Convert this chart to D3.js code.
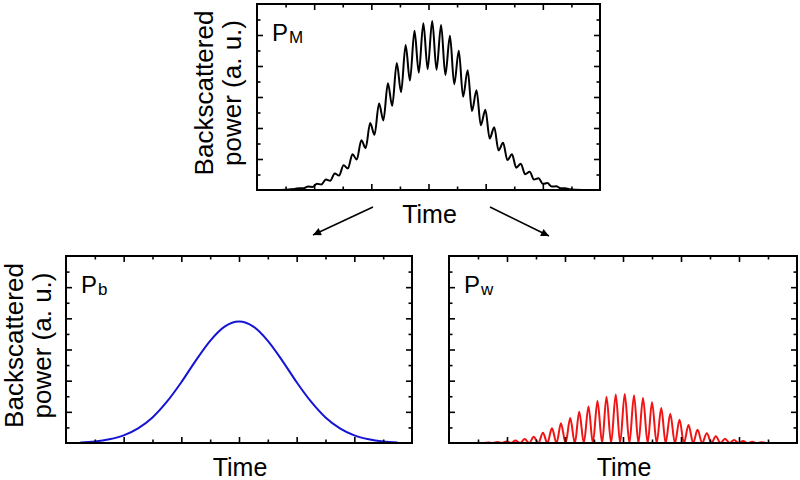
<!DOCTYPE html>
<html>
<head>
<meta charset="utf-8">
<script src="https://cdn.jsdelivr.net/npm/d3@7"></script>
<style>
  body { margin: 0; background: #fff; }
  text { font-family: "Liberation Sans", Arial, sans-serif; fill: #000; }
</style>
</head>
<body>
<div id="chartDivId"></div>
<script>
// axes of every panel: time and power, both in arbitrary units
var timeDomain = [-6, 6];
var powerDomain = [0, 12];
var majorTimeTicks = [-4, -2, 0, 2, 4];
var minorTimeTicks = [-5, -3, -1, 1, 3, 5];
var majorPowerTicks = [2, 4, 6, 8, 10];
var minorPowerTicks = [1, 3, 5, 7, 9, 11];

// P_M (top panel): tops and bottoms of the ripples
var pmPeakTime = [-4.52, -4.21, -3.90, -3.59, -3.28, -2.97, -2.66, -2.35, -2.04, -1.73,
                  -1.42, -1.11, -0.80, -0.49, -0.18, 0.13, 0.44, 0.75, 1.06, 1.37,
                  1.68, 1.99, 2.30, 2.61, 2.92, 3.23, 3.54, 3.85, 4.16, 4.47, 4.78];
var pmPeakPower = [0.12, 0.22, 0.40, 0.68, 1.07, 1.60, 2.31, 3.21, 4.32, 5.58,
                   6.89, 8.19, 9.35, 10.27, 10.76, 10.91, 10.65, 9.95, 8.99, 7.72,
                   6.44, 5.18, 4.05, 3.05, 2.30, 1.70, 1.18, 0.76, 0.45, 0.24, 0.12];
var pmValleyTime = [-5.40, -4.68, -4.37, -4.06, -3.75, -3.44, -3.13, -2.82, -2.51, -2.20, -1.89,
                    -1.58, -1.27, -0.96, -0.65, -0.34, -0.03, 0.28, 0.59, 0.90, 1.21,
                    1.52, 1.83, 2.14, 2.45, 2.76, 3.07, 3.38, 3.69, 4.00, 4.31,
                    4.62, 4.93, 5.40];
var pmValleyPower = [0, 0.07, 0.11, 0.20, 0.36, 0.60, 0.93, 1.38, 1.96, 2.70, 3.56,
                     4.49, 5.43, 6.31, 7.06, 7.57, 7.80, 7.76, 7.42, 6.82, 6.02,
                     5.10, 4.18, 3.32, 2.56, 1.93, 1.44, 1.02, 0.67, 0.40, 0.22,
                     0.11, 0.05, 0];

// P_b (bottom left)
var pbTime = [-5.5, -5, -4.5, -4, -3.5, -3, -2.5, -2, -1.5, -1, -0.5, 0,
              0.5, 1, 1.5, 2, 2.5, 3, 3.5, 4, 4.5, 5, 5.5];
var pbPower = [0.04, 0.10, 0.24, 0.49, 0.94, 1.64, 2.65, 3.90, 5.29, 6.56, 7.47, 7.80,
               7.47, 6.56, 5.29, 3.90, 2.65, 1.64, 0.94, 0.49, 0.24, 0.10, 0.04];

// P_w (bottom right): tops and bottoms of the fringes
var pwPeakTime = [-4.65, -4.33, -4.02, -3.71, -3.39, -3.08, -2.76, -2.45, -2.14, -1.82,
                  -1.51, -1.19, -0.88, -0.57, -0.25, 0.06, 0.38, 0.69, 1.00, 1.32,
                  1.63, 1.95, 2.26, 2.57, 2.89, 3.20, 3.52, 3.83, 4.14, 4.46, 4.77];
var pwPeakPower = [0.04, 0.06, 0.10, 0.16, 0.25, 0.40, 0.66, 0.94, 1.26, 1.60,
                   2.01, 2.35, 2.69, 2.97, 3.12, 3.14, 3.06, 2.88, 2.61, 2.24,
                   1.88, 1.50, 1.15, 0.85, 0.62, 0.43, 0.28, 0.19, 0.13, 0.08, 0.05];
var pwValleyTime = [-4.81, -4.49, -4.18, -3.86, -3.55, -3.23, -2.92, -2.61, -2.29, -1.98,
                    -1.66, -1.35, -1.04, -0.72, -0.41, -0.10, 0.22, 0.53, 0.85, 1.16,
                    1.47, 1.79, 2.10, 2.42, 2.73, 3.05, 3.36, 3.67, 3.99, 4.30, 4.61, 4.93];
var pwValleyPower = [0, 0, 0, 0, 0, 0, 0, 0, 0, 0, 0, 0, 0, 0, 0, 0,
                     0, 0, 0, 0, 0, 0, 0, 0, 0, 0, 0, 0, 0, 0, 0, 0];

function toPoints(times, powers) {
    return times.map(function (t, i) { return { t: t, p: powers[i] }; });
}

function mergeSeries(tA, pA, tB, pB) {
    return d3.sort(toPoints(tA, pA).concat(toPoints(tB, pB)), function (d) { return d.t; });
}

var svg = d3.select("#chartDivId")
    .append("svg")
    .attr("width", 800)
    .attr("height", 480);

svg.append("defs").append("marker")
    .attr("id", "arrowHead")
    .attr("markerUnits", "userSpaceOnUse")
    .attr("viewBox", "0 0 10 10")
    .attr("refX", 10)
    .attr("refY", 5)
    .attr("markerWidth", 11)
    .attr("markerHeight", 8)
    .attr("orient", "auto")
    .append("path")
    .attr("d", "M0,0 L10,5 L0,10 Z")
    .attr("fill", "#000");

function drawPanel(left, top, width, height, points, color, sub, labelX) {
    var x = d3.scaleLinear().domain(timeDomain).range([0, width]);
    var y = d3.scaleLinear().domain(powerDomain).range([height, 0]);
    var g = svg.append("g").attr("transform", "translate(" + left + "," + top + ")");

    var line = d3.line()
        .x(function (d) { return x(d.t); })
        .y(function (d) { return y(d.p); })
        .curve(d3.curveMonotoneX);

    g.append("path")
        .datum(points)
        .attr("d", line)
        .attr("fill", "none")
        .attr("stroke", color)
        .attr("stroke-width", 2)
        .attr("stroke-linejoin", "round");

    // inward ticks on all four sides, long for major and short for minor
    var sides = [
        [d3.axisBottom(x), majorTimeTicks, minorTimeTicks, "translate(0," + height + ")"],
        [d3.axisTop(x), majorTimeTicks, minorTimeTicks, "translate(0,0)"],
        [d3.axisLeft(y), majorPowerTicks, minorPowerTicks, "translate(0,0)"],
        [d3.axisRight(y), majorPowerTicks, minorPowerTicks, "translate(" + width + ",0)"]
    ];
    sides.forEach(function (s) {
        [[s[1], 6], [s[2], 3.5]].forEach(function (set) {
            var ax = g.append("g")
                .attr("transform", s[3])
                .call(s[0].tickValues(set[0]).tickSize(-set[1]).tickFormat(""));
            ax.select(".domain").remove();
            ax.selectAll("line").attr("stroke", "#000").attr("stroke-width", 1.6);
        });
    });

    g.append("rect")
        .attr("width", width)
        .attr("height", height)
        .attr("fill", "none")
        .attr("stroke", "#000")
        .attr("stroke-width", 2);

    var name = g.append("text")
        .attr("x", 15)
        .attr("y", 37)
        .attr("font-size", 24);
    name.append("tspan").text("P");
    name.append("tspan").attr("dx", 1).attr("dy", 2).attr("font-size", 17).text(sub);

    g.append("text")
        .attr("x", width / 2 + 1)
        .attr("y", height + 33)
        .attr("text-anchor", "middle")
        .attr("font-size", 25)
        .text("Time");

    if (labelX !== null) {
        var yl = g.append("text")
            .attr("transform", "translate(" + (labelX - left) + "," + (height / 2 - 4) + ") rotate(-90)")
            .attr("text-anchor", "middle")
            .attr("font-size", 26);
        yl.append("tspan").attr("x", 0).attr("y", 0).text("Backscattered");
        yl.append("tspan").attr("x", 0).attr("y", 28).text("power (a. u.)");
    }

    return { x: x, y: y };
}

drawPanel(257, 4, 343, 186,
    mergeSeries(pmPeakTime, pmPeakPower, pmValleyTime, pmValleyPower), "#000", "M", 213);
drawPanel(66, 256, 346, 187, toPoints(pbTime, pbPower), "#1414d2", "b", 23);
drawPanel(449, 256, 348, 187,
    mergeSeries(pwPeakTime, pwPeakPower, pwValleyTime, pwValleyPower), "#f01414", "w", null);

// arrows from the top panel to the two parts
var arrows = [[373, 207, 313, 235], [490, 207, 549, 236]];
svg.selectAll(".arrow")
    .data(arrows)
    .enter()
    .append("line")
    .attr("class", "arrow")
    .attr("x1", function (d) { return d[0]; })
    .attr("y1", function (d) { return d[1]; })
    .attr("x2", function (d) { return d[2]; })
    .attr("y2", function (d) { return d[3]; })
    .attr("stroke", "#000")
    .attr("stroke-width", 1.6)
    .attr("marker-end", "url(#arrowHead)");
</script>
</body>
</html>
